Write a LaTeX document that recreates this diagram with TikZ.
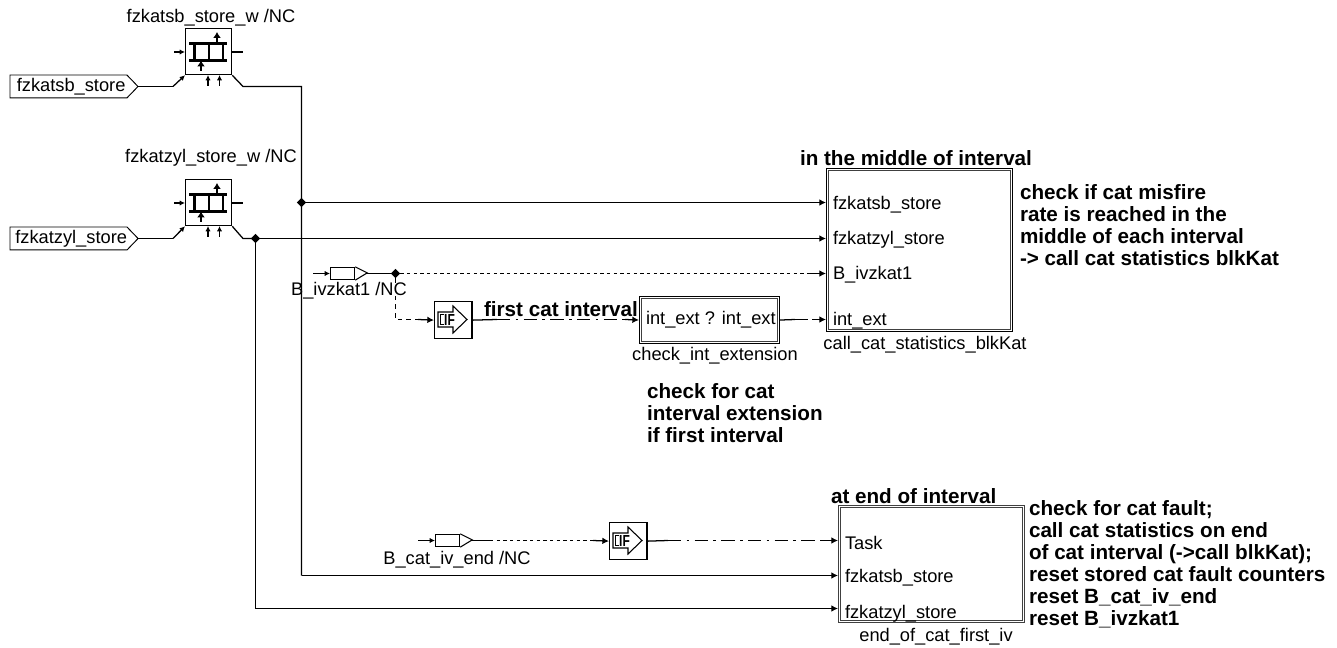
\documentclass[tikz,border=0pt]{standalone}
\usepackage{fontspec}
\setmainfont{Liberation Sans}
\usetikzlibrary{arrows.meta,shapes.symbols,shapes.geometric}
\tikzset{
  wire/.style={line width=0.95pt,-{Latex[length=5pt,width=5pt]}},
  plain/.style={line width=0.95pt},
  dotw/.style={line width=0.9pt,dash pattern=on 2.4pt off 2.6pt},
  dashw/.style={line width=0.9pt,dash pattern=on 3.5pt off 3pt},
  chain/.style={line width=0.9pt,dash pattern=on 10pt off 4pt on 2pt off 4pt},
  txt/.style={font=\fontsize{13.7}{16.5}\selectfont,inner sep=0pt,outer sep=0pt,align=left},
  btxt/.style={font=\bfseries\fontsize{15.5}{16.5}\selectfont,inner sep=0pt,outer sep=0pt,align=left},
  dot/.style={diamond,fill=black,inner sep=0pt,minimum size=7pt},
  storebox/.style={draw,line width=0.95pt,inner sep=0pt,minimum width=34.5pt,minimum height=34.5pt},
  ifbox/.style={draw,line width=0.95pt,inner sep=0pt,minimum width=28pt,minimum height=27.75pt},
  frame/.style={draw,line width=0.8pt,inner sep=0pt},
  srcbox/.style={draw,line width=0.7pt,shape=signal,signal to=east,signal pointer angle=92,inner sep=0pt,minimum height=17.2pt,minimum width=96pt,txt},
  sigbox/.style={draw,line width=0.95pt,inner sep=0pt},
  ico/.style={line width=2pt},
  icoa/.style={line width=1.4pt,-{Latex[length=4.5pt,width=6pt]}},
  pinstub/.style={line width=0.9pt,-{Latex[length=4pt,width=4pt]}}
}
\newcommand{\storeicon}[1]{%
  \begin{scope}[shift={(#1.north west)}]
    \draw[ico] (4,15.5) -- (42,15.5);
    \draw[ico] (4,32.5) -- (42,32.5);
    \draw[ico] (9.5,15.5) -- (9.5,32.5) (24,15.5) -- (24,32.5) (38,15.5) -- (38,32.5);
    \draw[icoa] (32,15.5) -- (32,4);
    \draw[icoa] (16,43) -- (16,32.5);
    \draw[pinstub] (-11,24) -- (0,24);
    \draw[plain] (46,24) -- (58,24);
    \draw[pinstub] (23,58) -- (23,47);
    \draw[pinstub] (34.5,58) -- (34.5,47);
  \end{scope}}
\newcommand{\ificon}[1]{%
  \begin{scope}[shift={(#1.north west)}]
    \draw[line width=0.8pt,fill=white] (4,11) -- (19,11) -- (19,5) -- (33,18.5) -- (19,32) -- (19,26) -- (4,26) -- cycle;
    \draw[line width=0.9pt] (9.5,13.5) -- (6.5,13.5) -- (6.5,23.5) -- (9.5,23.5);
    \node[inner sep=0pt,font=\bfseries\fontsize{12}{12}\selectfont] at (15.5,18.5) {\scalebox{0.75}[1]{IF}};
  \end{scope}}
\newcommand{\innerframe}[1]{%
  \draw[frame,draw=black!75] ([xshift=2pt,yshift=-2pt]#1.north west) rectangle ([xshift=-2pt,yshift=2pt]#1.south east);}
\begin{document}
\begin{tikzpicture}[x=0.75pt,y=-0.75pt]
\useasboundingbox (0,0) rectangle (1337,648);

% sources
\node[srcbox,anchor=west] (src1) at (10,86.5) {\hspace*{4pt}fzkatsb\_store};
\node[srcbox,anchor=west] (src2) at (10,238.5) {\hspace*{4pt}fzkatzyl\_store};

% store blocks
\node[storebox,anchor=north west] (s1) at (185,28) {};
\node[storebox,anchor=north west] (s2) at (185,179) {};
\storeicon{s1}
\storeicon{s2}
\node[txt,anchor=center] (l1) at (211,18) {fzkatsb\_store\_w /NC};
\node[txt,anchor=center] (l2) at (211,158) {fzkatzyl\_store\_w /NC};

% signal sources
\node[sigbox,minimum width=18pt,minimum height=9pt,anchor=west] (b1) at (330,273.5) {};
\node[sigbox,minimum width=18pt,minimum height=9pt,anchor=west] (b2) at (435,540.5) {};
\foreach \b in {b1,b2}{
  \draw[line width=0.8pt] (\b.north east) -- ++(12,6) -- (\b.south east);
  \draw[pinstub] ([xshift=-12.75pt]\b.west) -- (\b.west);
}
\coordinate (t1) at (366,273.5);
\coordinate (t2) at (471,540.5);
\node[txt,anchor=center] (bl1) at (349,291) {B\_ivzkat1 /NC};
\node[txt,anchor=center] (bl2) at (457,560) {B\_cat\_iv\_end /NC};

% IF
\node[ifbox,anchor=north west] (if1) at (434,301) {};
\node[ifbox,anchor=north west] (if2) at (609,522) {};
\ificon{if1}
\ificon{if2}

% blocks
\node[frame,minimum width=105pt,minimum height=35.25pt,anchor=north west] (chk) at (639,296) {};
\node[frame,minimum width=139.5pt,minimum height=122.25pt,anchor=north west] (cat) at (826,168) {};
\node[frame,draw=black!75,minimum width=140pt,minimum height=88pt,anchor=north west] (endb) at (837.5,505) {};
\innerframe{chk}
\innerframe{cat}
\innerframe{endb}

% junctions and way points
\coordinate (c1a) at (173,86.5);
\coordinate (c2a) at (173,238.5);
\coordinate (o1a) at (243,86.5);
\coordinate (o2a) at (243,238.5);
\coordinate (v1) at (301.5,86.5);
\coordinate (v1b) at (301.5,575.5);
\coordinate (v2b) at (255.5,608.5);
\node[dot] (j1) at (301.5,202.5) {};
\node[dot] (j2) at (255.5,238.5) {};
\node[dot] (j3) at (395.5,273.5) {};
\coordinate (p1) at (826,202.5);
\coordinate (p2) at (826,238.5);
\coordinate (p3) at (826,273.5);
\coordinate (p4) at (826,319.5);
\coordinate (q1) at (838,540.5);
\coordinate (q2) at (838,575.5);
\coordinate (q3) at (838,608.5);
\coordinate (k1) at (395.5,319.5);
\coordinate (m1) at (810,273.5);
\coordinate (m2) at (418,319.5);
\coordinate (m3) at (497,319.5);
\coordinate (m4) at (625,319.5);
\coordinate (m5) at (795,319.5);
\coordinate (m6) at (812,319.5);
\coordinate (m7) at (490,540.5);
\coordinate (m8) at (593,540.5);
\coordinate (m9) at (668,540.5);
\coordinate (m10) at (820,540.5);

% wires
\draw[plain] (src1.east) -- (c1a);
\draw[-{Latex[length=4pt,width=4pt]},line width=0.95pt] (c1a) -- (s1.south west);
\draw[plain] (src2.east) -- (c2a);
\draw[-{Latex[length=4pt,width=4pt]},line width=0.95pt] (c2a) -- (s2.south west);
\draw[plain] (s1.south east) -- (o1a) -- (v1) -- (j1.center) -- (v1b);
\draw[plain] (s2.south east) -- (o2a) -- (j2.center);
\draw[wire] (j1.center) -- (p1);
\draw[wire] (j2.center) -- (p2);
\draw[plain] (j2.center) -- (v2b);
\draw[wire] (v2b) -- (q3);
\draw[wire] (v1b) -- (q2);

\draw[plain] (t1) -- (j3.center);
\draw[dotw] (j3) -- (m1);
\draw[wire] (m1) -- (p3);
\draw[dashw] (j3) -- (k1) -- (m2);
\draw[wire] (m2) -- (if1.west);
\draw[plain] (if1.east) -- (m3);
\draw[chain] (m3) -- (m4);
\draw[wire] (m4) -- (chk.west);
\draw[plain] (chk.east) -- (m5);
\draw[chain] (m5) -- (m6);
\draw[wire] (m6) -- (p4);

\draw[plain] (t2) -- (m7);
\draw[dotw] (m7) -- (m8);
\draw[wire] (m8) -- (if2.west);
\draw[plain] (if2.east) -- (m9);
\draw[chain] (m9) -- (m10);
\draw[wire] (m10) -- (q1);

% texts
\node[btxt,anchor=west] (h1) at (484,309) {first cat interval};
\node[txt,anchor=west] (h2) at (646,320) {int\_ext ? int\_ext};
\node[txt,anchor=center] (h3) at (715,356) {check\_int\_extension};
\node[btxt,anchor=west] (h4) at (800,158) {in the middle of interval};
\node[txt,anchor=west] (a1) at (833,204.5) {fzkatsb\_store};
\node[txt,anchor=west] (a2) at (833,240) {fzkatzyl\_store};
\node[txt,anchor=west] (a3) at (833,275) {B\_ivzkat1};
\node[txt,anchor=west] (a4) at (833,321) {int\_ext};
\node[txt,anchor=center] (a5) at (925,345) {call\_cat\_statistics\_blkKat};
\node[btxt,anchor=north west] (n1) at (1020,185) {check if cat misfire\\rate is reached in the\\middle of each interval\\-> call cat statistics blkKat};
\node[btxt,anchor=north west] (n2) at (647,383.5) {check for cat\\interval extension\\if first interval};
\node[btxt,anchor=west] (h5) at (831,496) {at end of interval};
\node[txt,anchor=west] (e1) at (845,543) {Task};
\node[txt,anchor=west] (e2) at (845,578) {fzkatsb\_store};
\node[txt,anchor=west] (e3) at (845,614) {fzkatzyl\_store};
\node[txt,anchor=center] (e4) at (936,637) {end\_of\_cat\_first\_iv};
\node[btxt,anchor=north west] (n3) at (1029,501) {check for cat fault;\\call cat statistics on end\\of cat interval (->call blkKat);\\reset stored cat fault counters\\reset B\_cat\_iv\_end\\reset B\_ivzkat1};
\end{tikzpicture}
\end{document}
